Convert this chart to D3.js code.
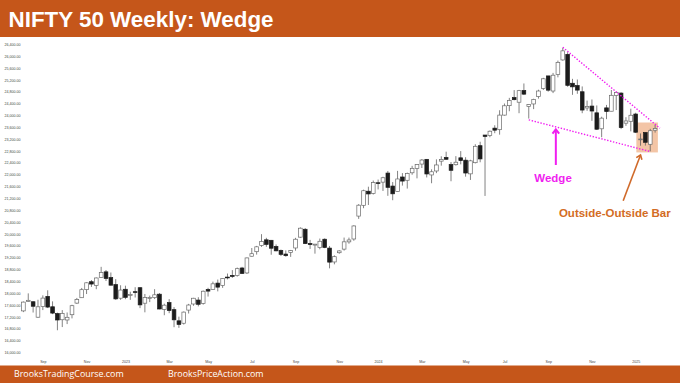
<!DOCTYPE html>
<html><head><meta charset="utf-8">
<script src="https://cdn.jsdelivr.net/npm/d3@7"></script>
<style>html,body{margin:0;padding:0;background:#fff;} svg{display:block;}</style>
</head><body>
<svg id="c" width="680" height="383"></svg>
<script>
// ---- data ----
const weeks = [
"2022-08-08","2022-08-15","2022-08-22","2022-08-29","2022-09-05","2022-09-12","2022-09-19","2022-09-26","2022-10-03","2022-10-10","2022-10-17","2022-10-24","2022-10-31","2022-11-07","2022-11-14","2022-11-21","2022-11-28","2022-12-05","2022-12-12","2022-12-19","2022-12-26",
"2023-01-02","2023-01-09","2023-01-16","2023-01-23","2023-01-30","2023-02-06","2023-02-13","2023-02-20","2023-02-27","2023-03-06","2023-03-13","2023-03-20","2023-03-27","2023-04-03","2023-04-10","2023-04-17","2023-04-24","2023-05-01","2023-05-08","2023-05-15","2023-05-22","2023-05-29","2023-06-05","2023-06-12","2023-06-19","2023-06-26","2023-07-03","2023-07-10","2023-07-17","2023-07-24","2023-07-31","2023-08-07","2023-08-14","2023-08-21","2023-08-28","2023-09-04","2023-09-11","2023-09-18","2023-09-25","2023-10-02","2023-10-09","2023-10-16","2023-10-23","2023-10-30","2023-11-06","2023-11-13","2023-11-20","2023-11-27","2023-12-04","2023-12-11","2023-12-18","2023-12-25",
"2024-01-01","2024-01-08","2024-01-15","2024-01-22","2024-01-29","2024-02-05","2024-02-12","2024-02-19","2024-02-26","2024-03-04","2024-03-11","2024-03-18","2024-03-25","2024-04-01","2024-04-08","2024-04-15","2024-04-22","2024-04-29","2024-05-06","2024-05-13","2024-05-20","2024-05-27","2024-06-03","2024-06-10","2024-06-17","2024-06-24","2024-07-01","2024-07-08","2024-07-15","2024-07-22","2024-07-29","2024-08-05","2024-08-12","2024-08-19","2024-08-26","2024-09-02","2024-09-09","2024-09-16","2024-09-23","2024-09-30","2024-10-07","2024-10-14","2024-10-21","2024-10-28","2024-11-04","2024-11-11","2024-11-18","2024-11-25","2024-12-02","2024-12-09","2024-12-16","2024-12-23","2024-12-30",
"2025-01-06","2025-01-13","2025-01-20","2025-01-27","2025-02-03"];

const open = [
17401,17720,17710,17188,17546,17890,17540,17312,17102,17094,17272,17664,17846,18118,18386,18262,18528,18719,18524,18288,17830,
18131,17924,18050,18184,17661,17818,17847,17965,17451,17680,17443,17066,16984,17428,17634,17767,17653,18124,18120,18339,18258,18542,18600,18595,18849,18682,19246,19400,19612,19800,19784,19576,19443,19320,19374,19525,19890,20156,19678,19622,19539,19820,19521,19053,19365,19486,19731,19828,20601,20965,21441,21365,
21727,21747,22053,21615,21433,21921,21810,22063,22209,22357,22517,21990,22124,22456,22579,22339,22336,22568,22489,22027,22404,22978,23337,23319,23570,23518,24010,24329,24600,24445,24839,24302,24386,24636,24906,25333,24823,25383,25872,26061,25085,25008,24798,24251,24315,24087,23548,24254,24141,24671,24753,23738,23801,
24046,23195,23421,23025,23500];

const high = [
17719,17992,17726,17777,17925,18096,17723,17342,17428,17348,17607,17838,18176,18363,18443,18529,18888,18781,18697,18473,18266,
18252,18049,18201,18202,17972,17916,18134,18004,17644,17799,17529,17207,17381,17638,17842,17863,18089,18180,18389,18459,18508,18662,18777,18864,18887,19201,19524,19595,19991,19867,19795,19645,19472,19443,19458,19867,20222,20196,19798,19661,19843,19850,19593,19276,19451,19876,19875,20292,21006,21493,21593,21801,
21834,21929,22124,21750,22127,22053,22069,22297,22353,22526,22526,22180,22516,22619,22775,22427,22625,22795,22589,22502,23026,23111,23339,23490,23667,24174,24401,24592,24854,24861,25078,24382,24563,24867,25268,25333,25434,25850,26277,26134,25234,25212,24978,24499,24537,24336,23956,24354,24857,24792,24781,23939,24226,
24089,23391,23426,23546,23680];

const low = [
17359,17711,17346,17166,17429,17497,17291,16748,16855,16956,17148,17637,17838,17970,18210,18133,18528,18410,18256,17774,17775,
17796,17774,17853,17494,17353,17698,17800,17455,17255,17324,16851,16828,16940,17313,17574,17554,17612,17885,18116,18060,18178,18464,18516,18557,18647,18647,19236,19301,19562,19563,19296,19413,19253,19230,19224,19433,19866,19657,19493,19333,19480,19518,18837,18973,19329,19436,19669,19768,20507,20867,20976,21329,
21501,21449,21285,21137,21429,21630,21530,21997,21875,22224,21905,21710,22052,22304,22503,21777,22305,22348,21932,21821,22378,22418,21281,23263,23399,23350,23993,24141,24509,24074,24687,23893,24212,24566,24859,24801,24753,25285,25847,24967,24694,24729,24074,24154,23816,23509,23263,23873,24140,24180,23537,23647,23461,
23404,22976,22981,22786,23420];

const close = [
17698,17758,17558,17539,17833,17530,17327,17094,17315,17185,17576,17786,18117,18349,18307,18512,18696,18497,18269,17806,18105,
17859,17956,18027,17604,17854,17856,17944,17465,17594,17413,17100,16945,17360,17599,17828,17624,18065,18069,18315,18203,18499,18534,18563,18826,18665,19189,19332,19564,19745,19646,19517,19428,19310,19265,19435,19820,20192,19674,19638,19654,19751,19542,19047,19231,19425,19732,19795,20268,20969,21457,21349,21731,
21711,21895,21572,21353,21854,21783,22041,22213,22339,22494,22023,22097,22327,22514,22519,22147,22420,22476,22055,22466,22957,22531,23290,23466,23501,24010,24324,24502,24531,24835,24718,24367,24541,24823,25236,24852,25357,25791,26179,25015,24964,24854,24181,24304,24148,23533,23907,24131,24678,24768,23588,23813,24005,
23432,23203,23092,23482,23560];

const yTicks = [16000,16400,16800,17200,17600,18000,18400,18800,19200,19600,20000,20400,20800,21200,21600,22000,22400,22800,23200,23600,24000,24400,24800,25200,25600,26000,26400];
const xTickDates = ["2022-09-05","2022-11-07","2023-01-02","2023-03-06","2023-05-01","2023-07-03","2023-09-04","2023-11-06","2024-01-01","2024-03-04","2024-05-06","2024-07-01","2024-09-02","2024-11-04","2025-01-06"];
const xTickLabels = ["Sep","Nov","2023","Mar","May","Jul","Sep","Nov","2024","Mar","May","Jul","Sep","Nov","2025"];

const titleText = "NIFTY 50 Weekly: Wedge";
const footerTexts = ["BrooksTradingCourse.com","BrooksPriceAction.com"];

// annotations (date, value)
const wedgeUpper = [["2024-09-23",26300],["2025-02-10",23565]];
const wedgeLower = [["2024-08-05",23850],["2025-01-27",22780]];
const wedgeArrow = [["2024-09-13",22326],["2024-09-13",23531]];
const wedgeLabel = ["2024-09-09",21752,"Wedge"];
const oobBox = [["2025-01-07",23760],["2025-02-07",22750]];
const oobArrow = [["2024-12-19",21121],["2025-01-13",22663]];
const oobLabel = ["2024-12-07",20587,"Outside-Outside Bar"];

// ---- drawing ----
const W = 680, H = 383;
const svg = d3.select("#c");
const parse = d3.utcParse("%Y-%m-%d");

const x = d3.scaleUtc()
  .domain([parse(weeks[0]), parse(weeks[weeks.length-1])])
  .range([23.4, 655.1]);
const y = d3.scaleLinear().domain([16000, 26400]).range([352.4, 44.3]);

const candles = weeks.map((w,i)=>({d:parse(w),o:open[i],h:high[i],l:low[i],c:close[i]}));

// header
svg.append("rect").attr("x",0).attr("y",0).attr("width",W).attr("height",37).attr("fill","#C5561A");
svg.append("text").attr("x",8.5).attr("y",26.5).text(titleText)
  .attr("fill","#fff").attr("font-family","'Liberation Sans',Arial,sans-serif")
  .attr("font-weight","bold").attr("font-size",22.4);

// footer
svg.append("rect").attr("x",0).attr("y",365.5).attr("width",W).attr("height",H-365.5).attr("fill","#C5561A");
svg.append("text").attr("x",14).attr("y",377).text(footerTexts[0])
  .attr("fill","#fff").attr("font-family","'Open Sans',sans-serif").attr("font-size",8.9);
svg.append("text").attr("x",168).attr("y",377).text(footerTexts[1])
  .attr("fill","#fff").attr("font-family","'Open Sans',sans-serif").attr("font-size",8.9);

// y axis
const yAxis = d3.axisLeft(y).tickValues(yTicks).tickFormat(d3.format(",.2f")).tickSize(0).tickPadding(0);
const gy = svg.append("g").attr("transform","translate(20.5,0)").call(yAxis);
gy.select(".domain").remove();
gy.selectAll("text").attr("font-family","'Liberation Sans',Arial,sans-serif").attr("font-size",3.6).attr("fill","#444");

// x axis
const xAxis = d3.axisBottom(x).tickValues(xTickDates.map(parse)).tickFormat((d,i)=>xTickLabels[i]).tickSize(0).tickPadding(0);
const gx = svg.append("g").attr("transform","translate(0,360.5)").call(xAxis);
gx.select(".domain").remove();
gx.selectAll("text").attr("font-family","'Liberation Sans',Arial,sans-serif").attr("font-size",3.6).attr("fill","#444");

// outside-outside box (behind candles)
svg.append("rect")
  .attr("x",x(parse(oobBox[0][0]))).attr("y",y(oobBox[0][1]))
  .attr("width",x(parse(oobBox[1][0]))-x(parse(oobBox[0][0])))
  .attr("height",y(oobBox[1][1])-y(oobBox[0][1]))
  .attr("fill","#F3C5A6");

// candles
const bw = 3.7;
const g = svg.append("g");
g.selectAll("line.wick").data(candles).join("line").attr("class","wick")
  .attr("x1",d=>x(d.d)).attr("x2",d=>x(d.d))
  .attr("y1",d=>y(d.h)).attr("y2",d=>y(d.l))
  .attr("stroke","#5a5a5a").attr("stroke-width",0.75);
g.selectAll("rect.body").data(candles).join("rect").attr("class","body")
  .attr("x",d=>x(d.d)-bw/2).attr("width",bw)
  .attr("y",d=>y(Math.max(d.o,d.c)))
  .attr("height",d=>Math.max(0.8, Math.abs(y(d.o)-y(d.c))))
  .attr("fill",d=>d.c>=d.o?"#fff":"#1c1c1c")
  .attr("stroke",d=>d.c>=d.o?"#6a6a6a":"#1c1c1c")
  .attr("stroke-width",0.7);

// wedge lines
const magenta = "#F01EF0";
[wedgeUpper, wedgeLower].forEach(seg=>{
  svg.append("line")
    .attr("x1",x(parse(seg[0][0]))).attr("y1",y(seg[0][1]))
    .attr("x2",x(parse(seg[1][0]))).attr("y2",y(seg[1][1]))
    .attr("stroke",magenta).attr("stroke-width",1.4).attr("stroke-dasharray","1.4,1.6");
});

function arrow(seg, color, sw, head){
  const x1=x(parse(seg[0][0])), y1=y(seg[0][1]), x2=x(parse(seg[1][0])), y2=y(seg[1][1]);
  svg.append("line").attr("x1",x1).attr("y1",y1).attr("x2",x2).attr("y2",y2)
    .attr("stroke",color).attr("stroke-width",sw);
  const a = Math.atan2(y2-y1, x2-x1);
  const p = (ang)=>[x2 - head*Math.cos(a+ang), y2 - head*Math.sin(a+ang)];
  const l = p(0.65), r = p(-0.65);
  svg.append("path").attr("d",`M${l[0]},${l[1]}L${x2},${y2}L${r[0]},${r[1]}`)
    .attr("fill","none").attr("stroke",color).attr("stroke-width",sw).attr("stroke-linejoin","miter");
}
arrow(wedgeArrow, magenta, 2, 5.5);
svg.append("text").attr("x",x(parse(wedgeLabel[0]))).attr("y",y(wedgeLabel[1]))
  .attr("text-anchor","middle").text(wedgeLabel[2])
  .attr("fill",magenta).attr("font-family","'Liberation Sans',Arial,sans-serif")
  .attr("font-weight","bold").attr("font-size",11.5);

const orange = "#D06A2A";
arrow(oobArrow, orange, 1.6, 5);
svg.append("text").attr("x",x(parse(oobLabel[0]))).attr("y",y(oobLabel[1]))
  .attr("text-anchor","middle").text(oobLabel[2])
  .attr("fill","#D36C24").attr("font-family","'Liberation Sans',Arial,sans-serif")
  .attr("font-weight","bold").attr("font-size",11.5);
</script>
</body></html>
